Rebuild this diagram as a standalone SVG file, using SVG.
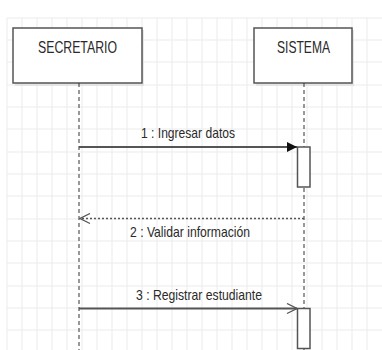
<svg xmlns="http://www.w3.org/2000/svg" width="382" height="350" viewBox="0 0 382 350">
<defs>
<style>
.grid line{stroke:#ebebeb;stroke-width:1}
.box{fill:#fff;stroke:#555;stroke-width:1.5}
.shadow{fill:#d8d8d8;opacity:0.6}
.life{stroke:#333;stroke-width:1;stroke-dasharray:4 3;fill:none}
.msg{stroke:#555;stroke-width:2;fill:none}
.ret{stroke:#555;stroke-width:1.5;stroke-dasharray:2 2;fill:none}
.act{fill:#fff;stroke:#555;stroke-width:1.5}
.t{font-family:"Liberation Sans",Arial,sans-serif;fill:#2a2a2a}
.title{font-size:17px}
.lbl{font-size:15px}
</style>
<marker id="filled" markerWidth="12" markerHeight="12" refX="11" refY="6" orient="auto" markerUnits="userSpaceOnUse">
<path d="M1,1 L11,6 L1,11 Z" fill="#111"/>
</marker>
<marker id="open" markerWidth="12" markerHeight="12" refX="11" refY="6" orient="auto" markerUnits="userSpaceOnUse">
<path d="M1,1 L11,6 L1,11" fill="none" stroke="#555" stroke-width="1.3"/>
</marker>
</defs>
<rect width="382" height="350" fill="#fff"/>
<g class="grid">
<line x1="7" y1="18" x2="7" y2="350"/><line x1="22" y1="18" x2="22" y2="350"/><line x1="37" y1="18" x2="37" y2="350"/><line x1="52" y1="18" x2="52" y2="350"/><line x1="67" y1="18" x2="67" y2="350"/><line x1="82" y1="18" x2="82" y2="350"/><line x1="97" y1="18" x2="97" y2="350"/><line x1="112" y1="18" x2="112" y2="350"/><line x1="127" y1="18" x2="127" y2="350"/><line x1="142" y1="18" x2="142" y2="350"/><line x1="157" y1="18" x2="157" y2="350"/><line x1="172" y1="18" x2="172" y2="350"/><line x1="187" y1="18" x2="187" y2="350"/><line x1="202" y1="18" x2="202" y2="350"/><line x1="217" y1="18" x2="217" y2="350"/><line x1="232" y1="18" x2="232" y2="350"/><line x1="247" y1="18" x2="247" y2="350"/><line x1="262" y1="18" x2="262" y2="350"/><line x1="277" y1="18" x2="277" y2="350"/><line x1="292" y1="18" x2="292" y2="350"/><line x1="307" y1="18" x2="307" y2="350"/><line x1="322" y1="18" x2="322" y2="350"/><line x1="337" y1="18" x2="337" y2="350"/><line x1="352" y1="18" x2="352" y2="350"/><line x1="367" y1="18" x2="367" y2="350"/>
<line x1="7" y1="18" x2="382" y2="18"/><line x1="7" y1="40" x2="382" y2="40"/><line x1="7" y1="62" x2="382" y2="62"/><line x1="7" y1="85" x2="382" y2="85"/><line x1="7" y1="107" x2="382" y2="107"/><line x1="7" y1="129" x2="382" y2="129"/><line x1="7" y1="152" x2="382" y2="152"/><line x1="7" y1="174" x2="382" y2="174"/><line x1="7" y1="196" x2="382" y2="196"/><line x1="7" y1="219" x2="382" y2="219"/><line x1="7" y1="241" x2="382" y2="241"/><line x1="7" y1="263" x2="382" y2="263"/><line x1="7" y1="286" x2="382" y2="286"/><line x1="7" y1="308" x2="382" y2="308"/><line x1="7" y1="330" x2="382" y2="330"/>
</g>
<g id="secretario">
<rect class="shadow" x="15" y="30" width="129" height="56"/>
<rect class="box" x="13" y="28" width="129" height="55"/>
<text class="t title" x="77.5" y="53" text-anchor="middle" textLength="79" lengthAdjust="spacingAndGlyphs">SECRETARIO</text>
<line class="life" x1="79" y1="83" x2="79" y2="350"/>
</g>
<g id="sistema">
<rect class="shadow" x="256" y="30" width="98" height="56"/>
<rect class="box" x="254" y="28" width="98" height="55"/>
<text class="t title" x="303.5" y="53" text-anchor="middle" textLength="53" lengthAdjust="spacingAndGlyphs">SISTEMA</text>
<line class="life" x1="304" y1="83" x2="304" y2="350"/>
</g>
<g id="activation1"><rect class="act" x="297.5" y="147" width="12.5" height="40"/></g>
<g id="activation2"><rect class="act" x="297.5" y="308.5" width="12.5" height="40"/></g>
<g id="connectors">
<line class="msg" x1="79" y1="147" x2="297" y2="147" marker-end="url(#filled)"/>
<text class="t lbl" x="188" y="138" text-anchor="middle" textLength="94" lengthAdjust="spacingAndGlyphs">1 : Ingresar datos</text>
<line class="ret" x1="304" y1="218.5" x2="80" y2="218.5" marker-end="url(#open)"/>
<text class="t lbl" x="190" y="237" text-anchor="middle" textLength="120" lengthAdjust="spacingAndGlyphs">2 : Validar información</text>
<line class="msg" x1="79" y1="308.5" x2="297" y2="308.5" marker-end="url(#open)"/>
<text class="t lbl" x="199" y="300" text-anchor="middle" textLength="126" lengthAdjust="spacingAndGlyphs">3 : Registrar estudiante</text>
</g>
</svg>
